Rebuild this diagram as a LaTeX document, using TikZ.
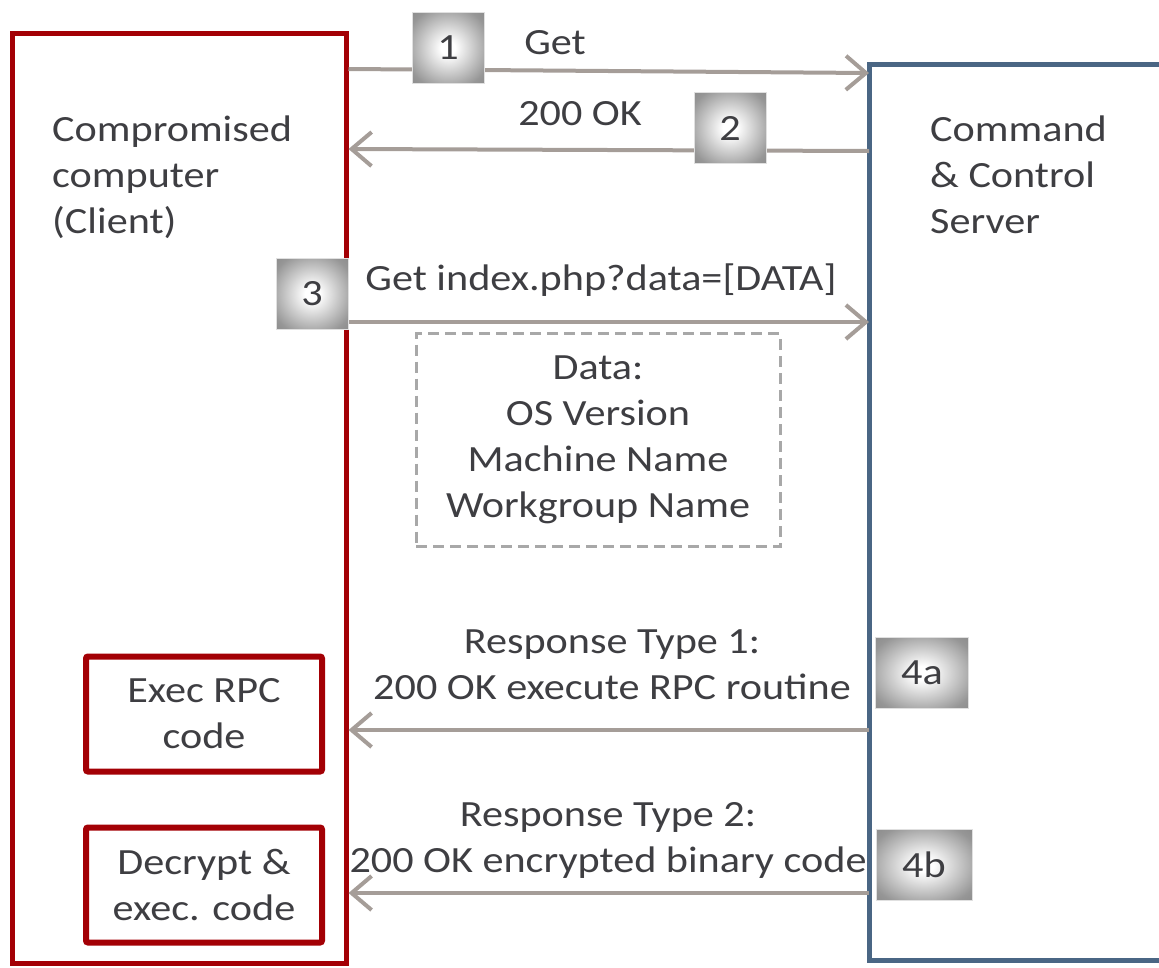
\documentclass[tikz,border=0pt]{standalone}
\usepackage{fontspec}
\setmainfont{Carlito}[FakeStretch=1.14]
\usetikzlibrary{arrows.meta}
\definecolor{redc}{RGB}{163,0,5}
\definecolor{bluec}{RGB}{74,102,132}
\definecolor{arrowc}{RGB}{165,157,152}
\definecolor{dashc}{RGB}{168,168,168}
\definecolor{textc}{RGB}{62,62,66}
\definecolor{shmid}{RGB}{150,150,150}
\definecolor{shout}{RGB}{125,125,125}
\pgfdeclareradialshading{numshade}{\pgfpoint{0bp}{0bp}}{color(0bp)=(white); color(5bp)=(white); color(30bp)=(shmid); color(45bp)=(shout); color(100bp)=(shout)}
\begin{document}
\begin{tikzpicture}[x=1pt,y=-1pt,
  every node/.style={text=textc,font=\fontsize{37}{46}\selectfont},
  lbl/.style={inner sep=0pt,align=center},
  numbox/.style={inner sep=0pt,minimum width=72pt,minimum height=71pt,
     draw=black!12,line width=1pt,shading=numshade},
  msg/.style={draw=arrowc,line width=4pt,-{Straight Barb[length=20pt,width=34pt,line width=4pt]}},
  redbox/.style={draw=redc,line width=6pt,rounded corners=2pt,inner sep=0pt,align=center}
]
\useasboundingbox (0,0) rectangle (1159,967);
% main boxes
\node[draw=redc,line width=5pt,inner sep=0pt,minimum width=334pt,minimum height=930pt] (client) at (179,498) {};
\draw[bluec,line width=5pt] (1170,64) -- (869,64) -- (869,960) -- (1170,960);
\coordinate (srvW) at (869,500);
% labels
\node[lbl,align=left,anchor=west] (cl) at (52,177) {Compromised\\computer\\(Client)};
\node[lbl,align=left,anchor=west] (sv) at (930,175) {Command\\\& Control\\Server};
% step 1
\coordinate (a1s) at (client.east |- 0,69);
\coordinate (a1e) at (srvW |- 0,73);
\draw[msg] (a1s) -- (a1e);
\node[numbox] (n1) at (448,48) {1};
\node[lbl] (t1) at (555,43) {Get};
% step 2
\coordinate (a2s) at (srvW |- 0,151);
\coordinate (a2e) at (client.east |- 0,149);
\draw[msg] (a2s) -- (a2e);
\node[numbox] (n2) at (730,128) {2};
\node[lbl] (t2) at (580,114) {200 OK};
% step 3
\coordinate (a3s) at (client.east |- 0,322);
\coordinate (a3e) at (srvW |- 0,322);
\draw[msg] (a3s) -- (a3e);
\node[numbox] (n3) at (312,294) {3};
\node[lbl] (t3) at (601,280) {Get index.php?data=[DATA]};
\node[draw=dashc,line width=3pt,dash pattern=on 11pt off 6pt,inner sep=0pt,
      minimum width=364pt,minimum height=213pt,align=center] (data) at (598,440)
      {Data:\\OS Version\\Machine Name\\Workgroup Name};
% step 4a
\coordinate (a4s) at (srvW |- 0,730);
\coordinate (a4e) at (client.east |- 0,730);
\draw[msg] (a4s) -- (a4e);
\node[numbox,minimum width=93pt] (n4a) at (922,673) {4a};
\node[lbl] (t4) at (612,665) {Response Type 1:\\200 OK execute RPC routine};
% step 4b
\coordinate (a5s) at (srvW |- 0,893);
\coordinate (a5e) at (client.east |- 0,893);
\draw[msg] (a5s) -- (a5e);
\node[numbox,minimum width=96pt] (n4b) at (924,865) {4b};
\node[lbl] (t5) at (608,840) {Response Type 2:\\200 OK encrypted binary code};
% inner boxes
\node[redbox,minimum width=236pt,minimum height=115pt] (rpc) at (204,714) {Exec RPC\\code};
\node[redbox,minimum width=236pt,minimum height=115pt] (dec) at (204,885) {Decrypt \&\\exec. code};
\end{tikzpicture}
\end{document}
